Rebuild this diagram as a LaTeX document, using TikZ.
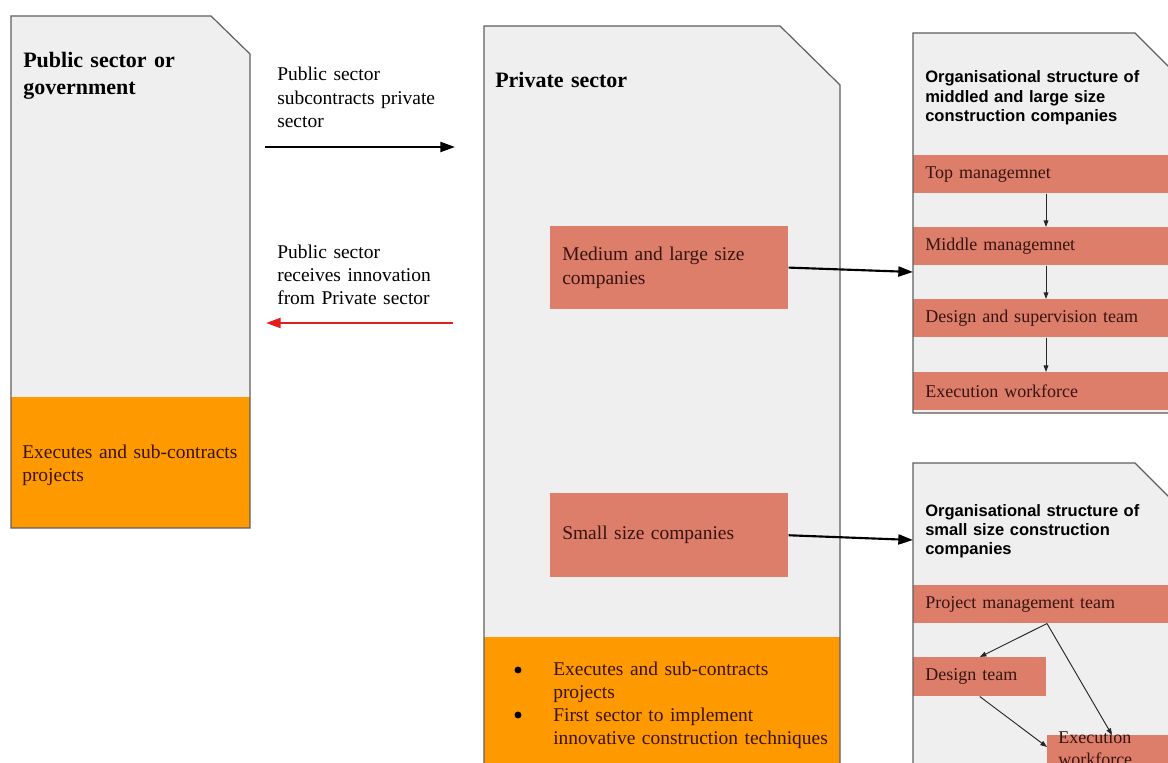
\documentclass[tikz,border=0pt]{standalone}
\usepackage{fontspec}
\setmainfont{Liberation Serif}
\setsansfont{Liberation Sans}
\usetikzlibrary{arrows.meta}
\definecolor{shapegray}{RGB}{239,239,239}
\definecolor{bordergray}{RGB}{95,95,95}
\definecolor{orangefill}{RGB}{255,153,0}
\definecolor{salmon}{RGB}{221,126,107}
\definecolor{boxtext}{RGB}{55,20,15}
\definecolor{arrowred}{RGB}{228,28,28}
\tikzset{
  docfill/.style={fill=shapegray},
  docline/.style={draw=bordergray, line width=0.9pt, line join=miter},
  orangepart/.style={fill=orangefill},
  headtext/.style={anchor=base west, inner sep=0pt, align=left, text width=200pt,
    font=\bfseries\fontsize{16.5}{20.25}\selectfont},
  bodytext/.style={anchor=base west, inner sep=0pt, align=left, text width=200pt,
    font=\fontsize{14.6}{17.4}\selectfont},
  titletext/.style={anchor=base west, inner sep=0pt, align=left, text width=200pt,
    font=\sffamily\bfseries\fontsize{12.4}{14.3}\selectfont},
  salbox/.style={fill=salmon, anchor=north west, inner xsep=9pt, inner ysep=0pt,
    align=left, text=boxtext},
  bigbox/.style={salbox, text width=160.5pt, minimum height=62pt,
    font=\fontsize{14.6}{17.6}\selectfont},
  rowbox/.style={salbox, text width=207pt, minimum height=28.5pt,
    font=\fontsize{13.5}{16.5}\selectfont},
  bigarrow/.style={line width=1.6pt, -{Triangle[length=11pt,width=7.5pt]}},
  thinarrow/.style={line width=0.7pt, draw=black!85, -{Triangle[length=5pt,width=3.6pt]}},
}
\begin{document}
\begin{tikzpicture}[x=0.75pt,y=-0.75pt]
\useasboundingbox (0,0) rectangle (1168,763);
\clip (0,0) rectangle (1168,763);
\fill[white] (0,0) rectangle (1168,763);

% ---------- Public sector shape ----------
\path[docfill] (11,16) -- (211,16) -- (250,54) -- (250,528) -- (11,528) -- cycle;
\path[orangepart] (11,397) rectangle (250,528);
\path[docline] (11,16) -- (211,16) -- (250,54) -- (250,528) -- (11,528) -- cycle;
\node[headtext] (pubhead) at (23,68) {Public sector or\\government};
\node[bodytext, text=boxtext] (pubexec) at (22,458) {Executes and sub-contracts\\projects};

% ---------- Private sector shape ----------
\path[docfill] (484,26) -- (780,26) -- (840,85) -- (840,800) -- (484,800) -- cycle;
\path[orangepart] (484,637) rectangle (840,800);
\path[docline] (484,26) -- (780,26) -- (840,85) -- (840,800) -- (484,800) -- cycle;
\node[headtext] (privhead) at (495,88) {Private sector};
\node[bigbox] (med) at (550,226) {Medium and large size\\companies};
\node[bigbox, minimum height=63pt] (small) at (550,493) {Small size companies};
\node[circle, fill=black, minimum size=5.2pt, inner sep=0pt] (bul1) at (518,670) {};
\node[circle, fill=black, minimum size=5.2pt, inner sep=0pt] (bul2) at (518,715) {};
\node[bodytext, text width=220pt, text=boxtext] (privexec) at (553,675)
  {Executes and sub-contracts\\projects\\First sector to implement\\innovative construction techniques};

% ---------- arrows between sectors ----------
\node[bodytext] (subtxt) at (277,81) {Public sector\\subcontracts private\\sector};
\node[bodytext] (rectxt) at (277,258) {Public sector\\receives innovation\\from Private sector};
\coordinate (subA) at (265,147);
\coordinate (subB) at (455,147);
\coordinate (recA) at (453,323);
\coordinate (recB) at (266,323);
\draw[bigarrow] (subA) -- (subB);
\draw[bigarrow, draw=arrowred, fill=arrowred] (recA) -- (recB);

% ---------- Panel 1: medium and large ----------
\path[docfill] (913,33) -- (1135,33) -- (1195,93) -- (1195,413) -- (913,413) -- cycle;
\node[titletext] (p1title) at (925,83) {Organisational structure of\\middled and large size\\construction companies};
\node[rowbox] (top) at (913,155) {Top managemnet};
\node[rowbox] (mid) at (913,227) {Middle managemnet};
\node[rowbox] (des) at (913,299) {Design and supervision team};
\node[rowbox] (exe) at (913,372) {Execution workforce};
\path[docline] (913,33) -- (1135,33) -- (1195,93) -- (1195,413) -- (913,413) -- cycle;
\draw[thinarrow] ([xshift=99.75pt]top.south west) -- ([xshift=99.75pt]mid.north west);
\draw[thinarrow] ([xshift=99.75pt]mid.south west) -- ([xshift=99.75pt]des.north west);
\draw[thinarrow] ([xshift=99.75pt]des.south west) -- ([xshift=99.75pt]exe.north west);

% ---------- Panel 2: small ----------
\path[docfill] (913,463) -- (1135,463) -- (1195,523) -- (1195,800) -- (913,800) -- cycle;
\node[titletext] (p2title) at (925,516) {Organisational structure of\\small size construction\\companies};
\node[rowbox] (pm) at (913,585) {Project management team};
\node[salbox, text width=81.75pt, minimum height=29.25pt, font=\fontsize{13.5}{16.5}\selectfont] (design) at (913,657) {Design team};
\node[salbox, minimum width=127.5pt, minimum height=30pt] (execbox) at (1047,735) {};
\node[bodytext, text=boxtext, font=\fontsize{13.5}{16.5}\selectfont] (exectxt) at (1058,743) {Execution\\workforce};
\path[docline] (913,800) -- (913,463) -- (1135,463) -- (1195,523);
\draw[thinarrow] ([xshift=100.5pt]pm.south west) -- (design.north);
\draw[thinarrow] ([xshift=100.5pt]pm.south west) -- ([xshift=48.75pt]execbox.north west);
\draw[thinarrow] (design.south) -- ([yshift=-9pt]execbox.north west);

% ---------- arrows to panels ----------
\coordinate (p1in) at (913,272);
\coordinate (p2in) at (913,540);
\draw[bigarrow] (med.east) -- (p1in);
\draw[bigarrow] (small.east) -- (p2in);
\end{tikzpicture}
\end{document}
